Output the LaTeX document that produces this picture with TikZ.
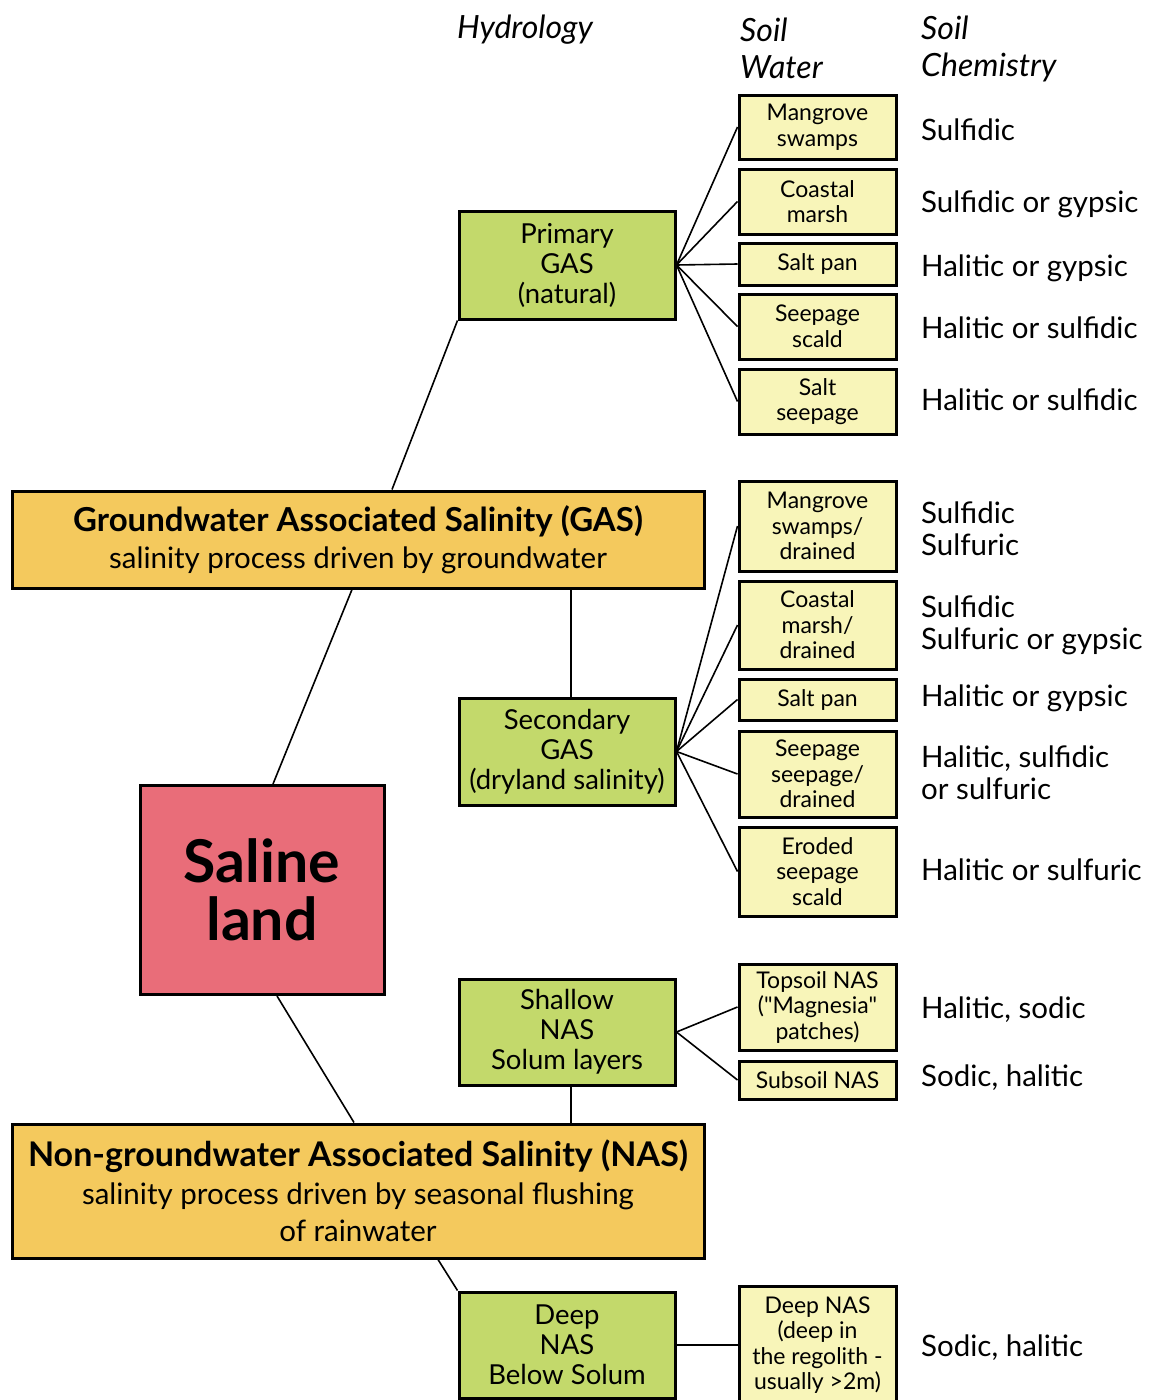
\documentclass[tikz,border=0pt]{standalone}
\usepackage{fontspec}
\setmainfont{Lato}
\definecolor{grn}{HTML}{C3D96B}
\definecolor{org}{HTML}{F4C95D}
\definecolor{pnk}{HTML}{E96D79}
\definecolor{ylw}{HTML}{F8F5B9}
\begin{document}
\begin{tikzpicture}[x=1pt,y=-1pt,
  base/.style={draw=black,line width=3pt,align=center,inner sep=0pt,text=black},
  gbox/.style={base,fill=grn,font=\fontsize{27.5}{30}\selectfont},
  ybox/.style={base,fill=ylw,font=\fontsize{23}{25.5}\selectfont},
  obox/.style={base,fill=org,font=\fontsize{29.5}{37.5}\selectfont},
  pbox/.style={base,fill=pnk,font=\bfseries\fontsize{59}{58}\selectfont},
  chem/.style={anchor=west,align=left,inner sep=0pt,font=\fontsize{29.5}{32}\selectfont},
  head/.style={anchor=west,align=left,inner sep=0pt,font=\itshape\fontsize{32}{37}\selectfont},
  conn/.style={line width=1.6pt,black}]
\useasboundingbox (0,0) rectangle (1150,1400);
% headers
\node[head] (hh) at (457,30) {Hydrology};
\node[head] (hw) at (740,48.5) {Soil\\Water};
\node[head] (hc) at (921,48.5) {Soil\\Chemistry};
% main boxes
\node[obox,minimum width=692pt,minimum height=97pt] (gas) at (358,539.5)
 {{\bfseries\fontsize{33}{37.5}\selectfont Groundwater Associated Salinity (GAS)}\\
  salinity process driven by groundwater};
\node[obox,minimum width=692pt,minimum height=134pt] (nas) at (358,1191)
 {{\bfseries\fontsize{34}{37.5}\selectfont Non-groundwater Associated Salinity (NAS)}\\
  salinity process driven by seasonal flushing\\
  of rainwater};
\node[pbox,minimum width=244pt,minimum height=209pt] (sal) at (262,890) {Saline\\land};
% hydrology boxes
\node[gbox,minimum width=216pt,minimum height=108pt] (prim) at (567,265) {Primary\\GAS\\(natural)};
\node[gbox,minimum width=216pt,minimum height=107pt] (sec) at (567,751.5) {Secondary\\GAS\\(dryland salinity)};
\node[gbox,minimum width=216pt,minimum height=106pt] (shal) at (567,1032) {Shallow\\NAS\\Solum layers};
\node[gbox,minimum width=216pt,minimum height=106pt] (deep) at (567,1345) {Deep\\NAS\\Below Solum};
% soil water boxes
\node[ybox,minimum width=157pt,minimum height=64pt] (w1) at (817.5,127) {Mangrove\\swamps};
\node[ybox,minimum width=157pt,minimum height=65pt] (w2) at (817.5,201.5) {Coastal\\marsh};
\node[ybox,minimum width=157pt,minimum height=42pt] (w3) at (817.5,264) {Salt pan};
\node[ybox,minimum width=157pt,minimum height=65pt] (w4) at (817.5,326.5) {Seepage\\scald};
\node[ybox,minimum width=157pt,minimum height=65pt] (w5) at (817.5,401.5) {Salt\\seepage};
\node[ybox,minimum width=157pt,minimum height=90pt] (w6) at (817.5,526) {Mangrove\\swamps/\\drained};
\node[ybox,minimum width=157pt,minimum height=88pt] (w7) at (817.5,625) {Coastal\\marsh/\\drained};
\node[ybox,minimum width=157pt,minimum height=41pt] (w8) at (817.5,699.5) {Salt pan};
\node[ybox,minimum width=157pt,minimum height=86pt] (w9) at (817.5,774) {Seepage\\seepage/\\drained};
\node[ybox,minimum width=157pt,minimum height=89pt] (w10) at (817.5,871.5) {Eroded\\seepage\\scald};
\node[ybox,minimum width=157pt,minimum height=86pt] (w11) at (817.5,1007) {Topsoil NAS\\{\addfontfeatures{Ligatures=TeXOff}("Magnesia"}\\patches)};
\node[ybox,minimum width=157pt,minimum height=38pt] (w12) at (817.5,1080) {Subsoil NAS};
\node[ybox,minimum width=157pt,minimum height=118pt] (w13) at (817.5,1345) {Deep NAS\\(deep in\\the regolith -\\usually >2m)};
% chemistry
\node[chem] (c1) at (921,130) {Sulfidic};
\node[chem] (c2) at (921,204) {Sulfidic or gypsic};
\node[chem] (c3) at (921,268) {Halitic or gypsic};
\node[chem] (c4) at (921,328) {Halitic or sulfidic};
\node[chem] (c5) at (921,400) {Halitic or sulfidic};
\node[chem] (c6) at (921,529) {Sulfidic\\Sulfuric};
\node[chem] (c7) at (921,625.5) {Sulfidic\\Sulfuric or gypsic};
\node[chem] (c8) at (921,698) {Halitic or gypsic};
\node[chem] (c9) at (921,773) {Halitic, sulfidic\\or sulfuric};
\node[chem] (c10) at (921,870) {Halitic or sulfuric};
\node[chem] (c11) at (921,1010) {Halitic, sodic};
\node[chem] (c12) at (921,1078) {Sodic, halitic};
\node[chem] (c13) at (921,1348) {Sodic, halitic};
% connectors
\draw[conn] ([xshift=34pt]gas.north) -- (prim.south west);
\draw[conn] ([xshift=213pt]gas.south) -- ([xshift=4pt]sec.north);
\draw[conn] ([xshift=-6pt]gas.south) -- ([xshift=11pt]sal.north);
\draw[conn] ([xshift=15pt]sal.south) -- ([xshift=-4pt]nas.north);
\draw[conn] ([xshift=4pt]shal.south) -- ([xshift=213pt]nas.north);
\draw[conn] ([xshift=80pt]nas.south) -- (deep.north west);
\foreach \w in {w1,w2,w3,w4,w5} \draw[conn] (prim.east) -- (\w.west);
\foreach \w in {w6,w7,w8,w9,w10} \draw[conn] (sec.east) -- (\w.west);
\foreach \w in {w11,w12} \draw[conn] (shal.east) -- (\w.west);
\draw[conn] (deep.east) -- (deep.east -| w13.west);
\end{tikzpicture}
\end{document}
